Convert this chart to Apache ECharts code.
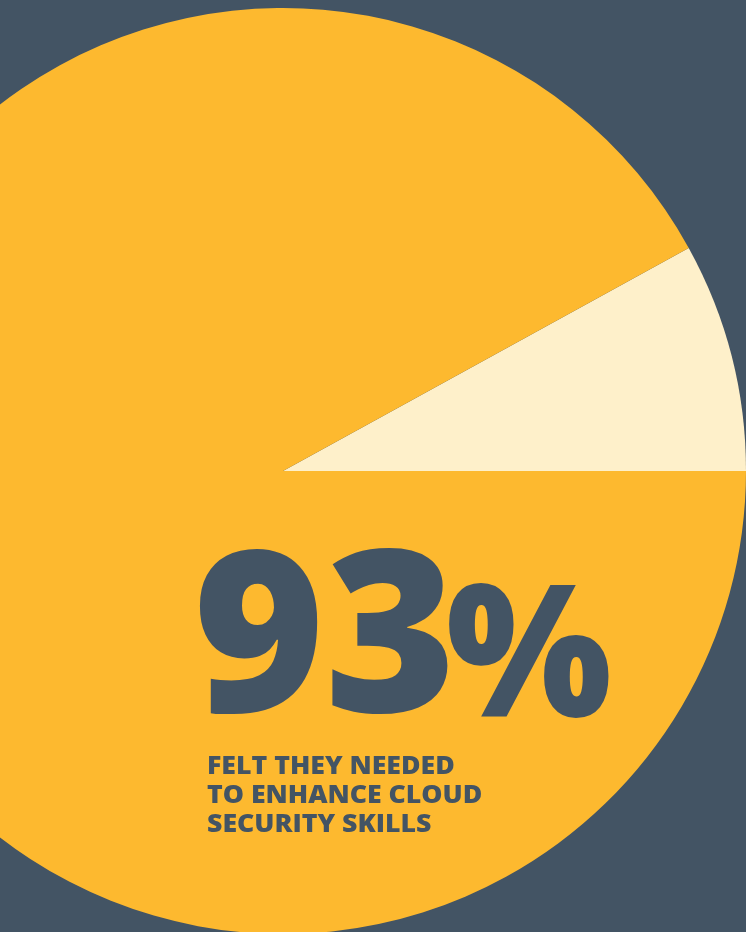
<!DOCTYPE html>
<html>
<head>
<meta charset="utf-8">
<script src="https://cdn.jsdelivr.net/npm/echarts@6/dist/echarts.min.js"></script>
<style>
html,body{margin:0;padding:0;background:#435464;}
#main{width:746px;height:932px;}
</style>
</head>
<body>
<div id="main"></div>
<script>
var categories = ['Other', 'Felt they needed to enhance cloud security skills'];
var values = [8, 92];
var headline = '93';
var headlineUnit = '%';
var captionLines = ['FELT THEY NEEDED', 'TO ENHANCE CLOUD', 'SECURITY SKILLS'];
var sliceColors = ['#FEF0CA', '#FDB92F'];

var chart = echarts.init(document.getElementById('main'), null, {renderer: 'canvas'});
var textColor = '#435464';
var option = {
  backgroundColor: '#435464',
  animation: false,
  series: [{
    type: 'pie',
    center: [283, 471],
    radius: 463,
    startAngle: 0,
    clockwise: false,
    label: {show: false},
    labelLine: {show: false},
    silent: true,
    z: 1,
    data: categories.map(function (c, i) {
      return {name: c, value: values[i], itemStyle: {color: sliceColors[i], borderWidth: 0}};
    })
  }],
  graphic: {
    elements: [
      {
        type: 'text', x: 193, y: 535, z: 100, zlevel: 1,
        style: {text: headline, fill: textColor, fontSize: 225, fontWeight: 800, fontFamily: 'Open Sans'}
      },
      {
        type: 'text', x: 446, y: 573, z: 100, zlevel: 1, scaleX: 0.95,
        style: {text: headlineUnit, fill: textColor, fontSize: 184, fontWeight: 800, fontFamily: 'Open Sans'}
      },
      {
        type: 'text', x: 207, y: 753, z: 100, zlevel: 1, scaleX: 1.11,
        style: {text: captionLines.join('\n'), fill: textColor, fontSize: 24, fontWeight: 800, fontFamily: 'Open Sans', lineHeight: 29}
      }
    ]
  }
};
chart.setOption(option);
</script>
</body>
</html>
